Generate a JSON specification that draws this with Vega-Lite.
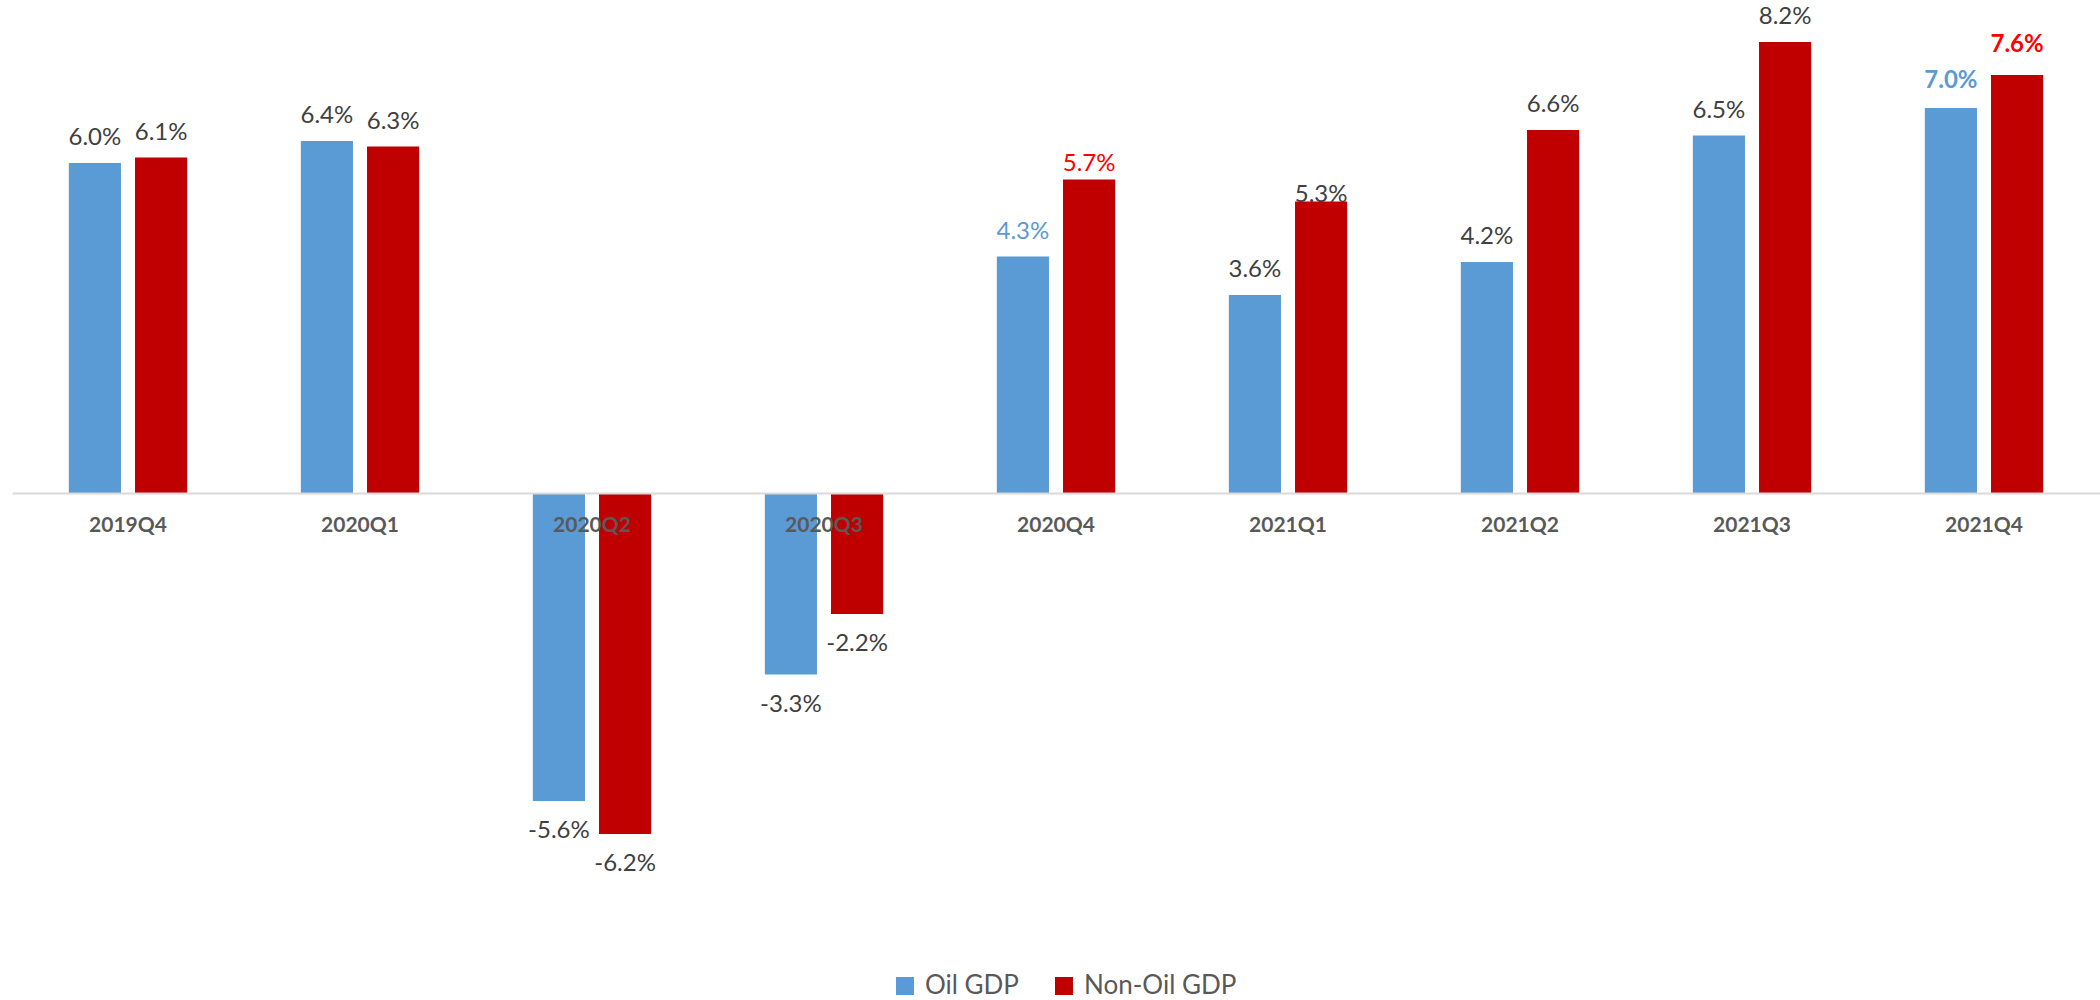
{
  "$schema": "https://vega.github.io/schema/vega-lite/v6.json",
  "width": 2088,
  "height": 933,
  "autosize": {"type": "none"},
  "padding": {"left": 12, "top": 0, "right": 0, "bottom": 67},
  "background": "white",
  "config": {
    "view": {"stroke": null},
    "font": "Lato",
    "locale": {"number": {"decimal": ".", "thousands": ",", "grouping": [3], "currency": ["$", ""], "minus": "-"}}
  },
  "data": {
    "values": [
      {"quarter": "2019Q4", "series": "Oil GDP", "value": 0.060},
      {"quarter": "2019Q4", "series": "Non-Oil GDP", "value": 0.061},
      {"quarter": "2020Q1", "series": "Oil GDP", "value": 0.064},
      {"quarter": "2020Q1", "series": "Non-Oil GDP", "value": 0.063},
      {"quarter": "2020Q2", "series": "Oil GDP", "value": -0.056},
      {"quarter": "2020Q2", "series": "Non-Oil GDP", "value": -0.062},
      {"quarter": "2020Q3", "series": "Oil GDP", "value": -0.033},
      {"quarter": "2020Q3", "series": "Non-Oil GDP", "value": -0.022},
      {"quarter": "2020Q4", "series": "Oil GDP", "value": 0.043},
      {"quarter": "2020Q4", "series": "Non-Oil GDP", "value": 0.057},
      {"quarter": "2021Q1", "series": "Oil GDP", "value": 0.036},
      {"quarter": "2021Q1", "series": "Non-Oil GDP", "value": 0.053},
      {"quarter": "2021Q2", "series": "Oil GDP", "value": 0.042},
      {"quarter": "2021Q2", "series": "Non-Oil GDP", "value": 0.066},
      {"quarter": "2021Q3", "series": "Oil GDP", "value": 0.065},
      {"quarter": "2021Q3", "series": "Non-Oil GDP", "value": 0.082},
      {"quarter": "2021Q4", "series": "Oil GDP", "value": 0.070},
      {"quarter": "2021Q4", "series": "Non-Oil GDP", "value": 0.076}
    ]
  },
  "encoding": {
    "x": {
      "field": "quarter", "type": "nominal", "sort": null,
      "scale": {"paddingInner": 0.49, "paddingOuter": 0.245},
      "axis": {
        "title": null, "orient": "bottom", "offset": -440, "zindex": 1,
        "ticks": false, "tickSize": 0, "labelPadding": 21, "labelAngle": 0,
        "labelFont": "Lato", "labelFontSize": 21, "labelFontWeight": "bold", "labelColor": "#595959",
        "domainColor": "#d9d9d9", "domainWidth": 2
      }
    },
    "xOffset": {
      "field": "series", "type": "nominal", "sort": ["Oil GDP", "Non-Oil GDP"],
      "scale": {"paddingInner": 0.212, "paddingOuter": 0}
    },
    "y": {
      "field": "value", "type": "quantitative",
      "scale": {"domain": [-0.08, 0.08964], "nice": false, "zero": true},
      "axis": null
    }
  },
  "layer": [
    {
      "mark": {"type": "bar"},
      "encoding": {
        "color": {
          "field": "series", "type": "nominal", "sort": ["Oil GDP", "Non-Oil GDP"],
          "scale": {"domain": ["Oil GDP", "Non-Oil GDP"], "range": ["#5B9BD5", "#C00000"]},
          "legend": {
            "title": null, "orient": "none", "direction": "horizontal",
            "legendX": 880, "legendY": 973, "padding": 0,
            "symbolType": "square", "symbolSize": 324, "symbolStrokeWidth": 0,
            "labelFont": "Lato", "labelFontSize": 26, "labelColor": "#595959",
            "labelOffset": 7, "columnPadding": 32
          }
        }
      }
    },
    {
      "transform": [{"filter": "datum.value > 0 && datum.quarter !== '2020Q4' && datum.quarter !== '2021Q4' && !(datum.quarter === '2021Q1' && datum.series === 'Non-Oil GDP')"}],
      "mark": {"type": "text", "baseline": "alphabetic", "dy": -18, "fontSize": 24, "color": "#404040"},
      "encoding": {"text": {"field": "value", "type": "quantitative", "format": ".1%"}}
    },
    {
      "transform": [{"filter": "datum.value < 0"}],
      "mark": {"type": "text", "baseline": "alphabetic", "dy": 37, "fontSize": 24, "color": "#404040"},
      "encoding": {"text": {"field": "value", "type": "quantitative", "format": ".1%"}}
    },
    {
      "transform": [{"filter": "datum.quarter === '2021Q1' && datum.series === 'Non-Oil GDP'"}],
      "mark": {"type": "text", "baseline": "alphabetic", "dy": 0, "fontSize": 24, "color": "#404040"},
      "encoding": {"text": {"field": "value", "type": "quantitative", "format": ".1%"}}
    },
    {
      "transform": [{"filter": "datum.quarter === '2020Q4' && datum.series === 'Oil GDP'"}],
      "mark": {"type": "text", "baseline": "alphabetic", "dy": -18, "fontSize": 24, "color": "#5B9BD5"},
      "encoding": {"text": {"field": "value", "type": "quantitative", "format": ".1%"}}
    },
    {
      "transform": [{"filter": "datum.quarter === '2020Q4' && datum.series === 'Non-Oil GDP'"}],
      "mark": {"type": "text", "baseline": "alphabetic", "dy": -9, "fontSize": 24, "color": "#FF0000"},
      "encoding": {"text": {"field": "value", "type": "quantitative", "format": ".1%"}}
    },
    {
      "transform": [{"filter": "datum.quarter === '2021Q4' && datum.series === 'Oil GDP'"}],
      "mark": {"type": "text", "baseline": "alphabetic", "dy": -20, "fontSize": 24, "fontWeight": "bold", "color": "#5B9BD5"},
      "encoding": {"text": {"field": "value", "type": "quantitative", "format": ".1%"}}
    },
    {
      "transform": [{"filter": "datum.quarter === '2021Q4' && datum.series === 'Non-Oil GDP'"}],
      "mark": {"type": "text", "baseline": "alphabetic", "dy": -23, "fontSize": 24, "fontWeight": "bold", "color": "#FF0000"},
      "encoding": {"text": {"field": "value", "type": "quantitative", "format": ".1%"}}
    }
  ]
}
